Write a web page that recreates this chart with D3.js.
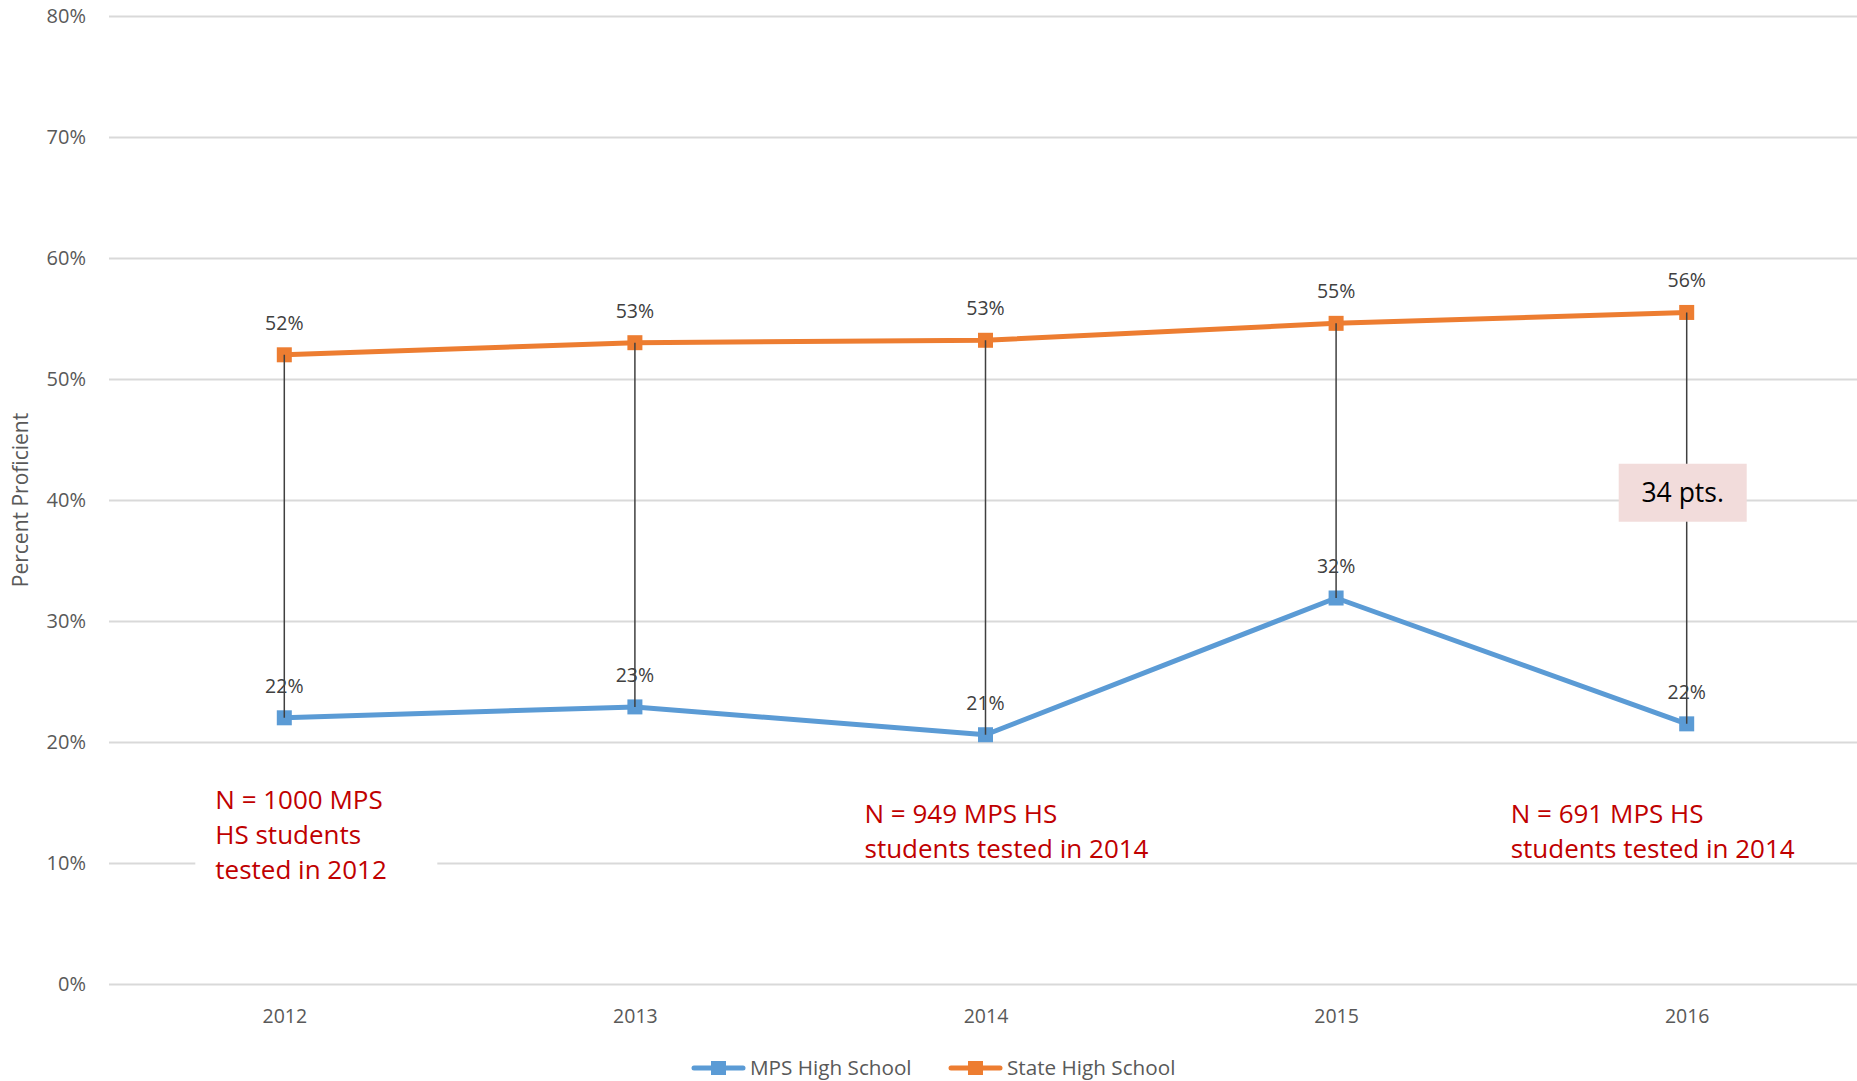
<!DOCTYPE html>
<html>
  <head>
    <title>Percent Proficient</title>
  <script src="https://d3js.org/d3.v7.min.js"></script>
  <style>
    body { margin: 0; background: #fff; }
    text { font-family: "Open Sans", sans-serif; }
  </style>
 </head>
  <body>

<script type="text/javascript">

// data
var years = ["2012", "2013", "2014", "2015", "2016"];
var mpsValues = [22.0, 22.9, 20.6, 31.9, 21.5];
var stateValues = [52.0, 53.0, 53.2, 54.6, 55.5];
var seriesNames = ["MPS High School", "State High School"];
var yTicks = [0, 10, 20, 30, 40, 50, 60, 70, 80];
var notes = [
  {year: "2012", lines: ["N = 1000 MPS", "HS students", "tested in 2012"], box: true},
  {year: "2014", lines: ["N = 949 MPS HS", "students tested in 2014"], box: false},
  {year: "2016", lines: ["N = 691 MPS HS", "students tested in 2014"], box: false}
];
var gapLabel = "34 pts.";

var width = 1857, height = 1081;
var margin = {top: 16, right: -5, bottom: 97, left: 109};

var colors = ["#5b9bd5", "#ed7d31"];

var svg = d3.select("body")
      .append("svg")
      .attr("width", width)
      .attr("height", height);

var x = d3.scalePoint()
    .domain(years)
    .range([margin.left, width - margin.right])
    .padding(0.5);

var y = d3.scaleLinear()
    .domain([0, 80])
    .range([height - margin.bottom, margin.top]);

// gridlines + y labels
svg.append("g")
    .attr("transform", "translate(" + margin.left + ",0)")
    .call(d3.axisLeft(y).tickValues(yTicks)
            .tickSize(-(width - margin.left - margin.right))
            .tickPadding(23)
            .tickFormat(function(d) { return d + "%"; }))
    .call(function(g) {
      g.select(".domain").remove();
      g.selectAll(".tick line").attr("stroke", "#d9d9d9").attr("stroke-width", 2);
      g.selectAll(".tick text").attr("fill", "#595959")
        .attr("font-size", 20).attr("font-family", "Open Sans, sans-serif");
    });

// x labels
svg.append("g")
    .attr("transform", "translate(0," + y(0) + ")")
    .call(d3.axisBottom(x).tickSize(0).tickPadding(25))
    .call(function(g) {
      g.select(".domain").remove();
      g.selectAll(".tick text").attr("fill", "#595959")
        .attr("font-size", 19.5).attr("font-family", "Open Sans, sans-serif");
    });

// y title
svg.append("text")
    .attr("transform", "translate(28," + y(40) + ") rotate(-90)")
    .attr("text-anchor", "middle")
    .attr("font-size", 21)
    .attr("fill", "#595959")
    .text("Percent Proficient");

// red notes
var noteDx = [-69, -121, -176];
notes.forEach(function(n, i) {
  var nx = x(n.year) + noteDx[i];
  var ny = i == 0 ? 800 : 814;
  if (n.box) {
    svg.append("rect")
      .attr("x", nx - 20).attr("y", ny - 25)
      .attr("width", 242).attr("height", 110)
      .attr("fill", "#fff");
  }
  var t = svg.append("text")
      .attr("x", nx).attr("y", ny)
      .attr("font-family", "Lato, sans-serif")
      .attr("font-size", 26)
      .attr("fill", "#c00000");
  n.lines.forEach(function(l, j) {
    t.append("tspan").attr("x", nx).attr("dy", j == 0 ? "0.35em" : 35).text(l);
  });
});

var line = d3.line()
    .x(function(d, i) { return x(years[i]); })
    .y(function(d) { return y(d); });

[mpsValues, stateValues].forEach(function(vals, k) {
  svg.append("path")
    .datum(vals)
    .attr("fill", "none")
    .attr("stroke", colors[k])
    .attr("stroke-width", 5)
    .attr("stroke-linejoin", "round")
    .attr("d", line);

  svg.selectAll(".m" + k)
    .data(vals)
    .enter().append("rect")
    .attr("class", "m" + k)
    .attr("x", function(d, i) { return x(years[i]) - 7.5; })
    .attr("y", function(d) { return y(d) - 7.5; })
    .attr("width", 15).attr("height", 15)
    .attr("fill", colors[k]);
});

// drop lines
svg.selectAll(".drop")
    .data(years)
    .enter().append("line")
    .attr("class", "drop")
    .attr("x1", function(d) { return x(d); })
    .attr("x2", function(d) { return x(d); })
    .attr("y1", function(d, i) { return y(stateValues[i]); })
    .attr("y2", function(d, i) { return y(mpsValues[i]); })
    .attr("stroke", "#404040")
    .attr("stroke-width", 1.5);

// data labels
[mpsValues, stateValues].forEach(function(vals, k) {
  svg.selectAll(".lab" + k)
    .data(vals)
    .enter().append("text")
    .attr("class", "lab" + k)
    .attr("x", function(d, i) { return x(years[i]); })
    .attr("y", function(d) { return y(d) - 32; })
    .attr("dy", "0.35em")
    .attr("text-anchor", "middle")
    .attr("font-size", 19.5)
    .attr("fill", "#404040")
    .text(function(d) { return Math.round(d) + "%"; });
});

// gap box
var last = years.length - 1;
var gx = x(years[last]) - 4, gy = y(40.6);
svg.append("rect")
    .attr("x", gx - 64).attr("y", gy - 29)
    .attr("width", 128).attr("height", 58)
    .attr("fill", "#f2dcdb");
svg.append("text")
    .attr("x", gx).attr("y", gy)
    .attr("dy", "0.35em")
    .attr("text-anchor", "middle")
    .attr("font-size", 26.5)
    .attr("fill", "#000")
    .text(gapLabel);

// legend
var legend = svg.append("g").attr("transform", "translate(0,1068)");
var lx = [692, 949];
seriesNames.forEach(function(name, k) {
  legend.append("line")
    .attr("x1", lx[k] + 2).attr("x2", lx[k] + 51)
    .attr("stroke", colors[k]).attr("stroke-width", 5)
    .attr("stroke-linecap", "round");
  legend.append("rect")
    .attr("x", lx[k] + 19).attr("y", -7)
    .attr("width", 15).attr("height", 14)
    .attr("fill", colors[k]);
  legend.append("text")
    .attr("x", lx[k] + 58).attr("dy", "0.35em")
    .attr("font-size", 20.7)
    .attr("fill", "#595959")
    .text(name);
});

</script>

</body>
</html>
